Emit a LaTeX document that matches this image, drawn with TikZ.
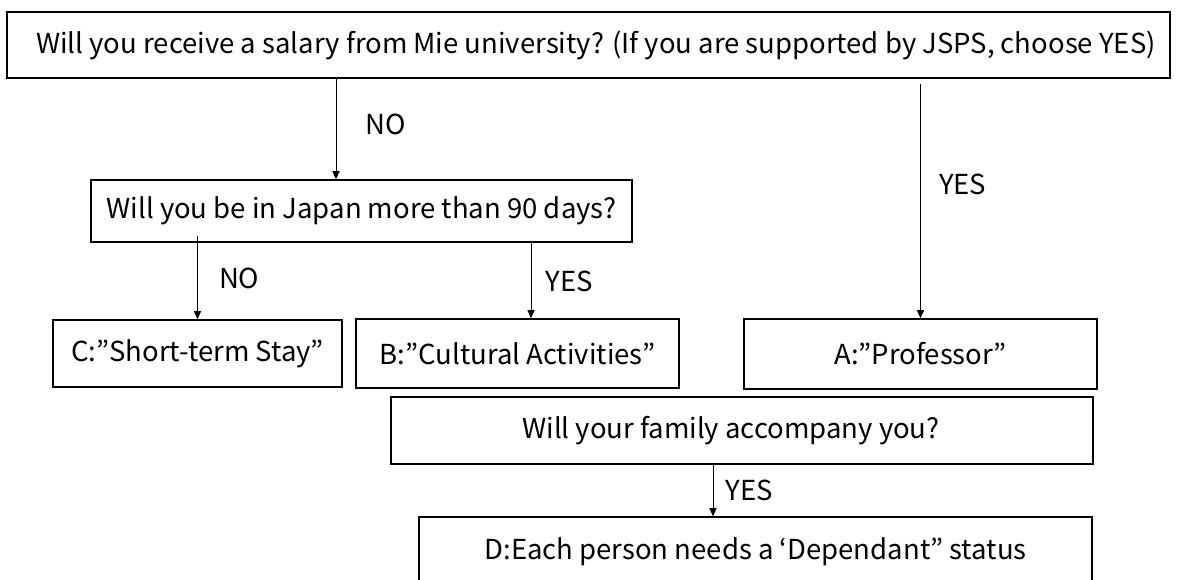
\documentclass[tikz,border=0pt]{standalone}
\usepackage{fontspec}
\setmainfont{Noto Sans CJK JP}
\usetikzlibrary{arrows.meta}
\tikzstyle{chart} = [x = 1pt, y = -1pt, font=\fontsize{27.5}{32}\selectfont]
\tikzstyle{boxStyle} = [draw, line width=1.6pt, inner sep=0pt]
\tikzstyle{arrowStyle} = [line width=1pt, -{Triangle[length=8pt,width=7pt]}]
\tikzstyle{answerText} = [inner sep=0pt, anchor=west]

\begin{document}
\begin{tikzpicture}[chart]
  \useasboundingbox (0,0) rectangle (1179,579);

  % boxes
  \node [boxStyle, minimum width=1163pt, minimum height=66pt] (salary) at (588.5,45)
    {\hspace*{15pt}Will you receive a salary from Mie university? (If you are supported by JSPS, choose YES)};
  \node [boxStyle, minimum width=541pt, minimum height=62pt] (japan) at (361.5,211)
    {Will you be in Japan more than 90 days?};
  \node [boxStyle, minimum width=289pt, minimum height=67pt] (shortStay) at (197.5,353.5)
    {C:”Short-term Stay”};
  \node [boxStyle, minimum width=323pt, minimum height=69pt] (cultural) at (517.5,353.5)
    {B:”Cultural Activities”};
  \node [boxStyle, minimum width=353pt, minimum height=70pt] (professor) at (920.5,354)
    {A:”Professor”};
  \node [boxStyle, minimum width=702pt, minimum height=67pt] (family) at (742,430.5)
    {Will your family accompany you?\hspace*{22pt}};
  \node [boxStyle, minimum width=673pt, minimum height=70pt] (dependant) at (755.5,552)
    {D:Each person needs a ‘Dependant” status};

  % arrow ends
  \coordinate (japanIn) at ([xshift=-25.5pt]japan.north);
  \coordinate (culturalIn) at ([xshift=13.5pt]cultural.north);
  \coordinate (dependantIn) at ([xshift=-42.5pt]dependant.north);

  % answers
  \draw [arrowStyle] (salary.south -| japanIn) -- (japanIn)
    node [answerText, pos=.45, xshift=29pt] {NO};
  \draw [arrowStyle, shorten <=5pt] (salary.south -| professor.north) -- (professor.north)
    node [answerText, pos=.44, xshift=18pt] {YES};
  \draw [arrowStyle, shorten <=-7pt] (japan.south -| shortStay.north) -- (shortStay.north)
    node [answerText, pos=.46, xshift=21pt] {NO};
  \draw [arrowStyle] (japan.south -| culturalIn) -- (culturalIn)
    node [answerText, pos=.51, xshift=14pt] {YES};
  \draw [arrowStyle] (family.south -| dependantIn) -- (dependantIn)
    node [answerText, pos=.49, xshift=12pt] {YES};
\end{tikzpicture}
\end{document}
